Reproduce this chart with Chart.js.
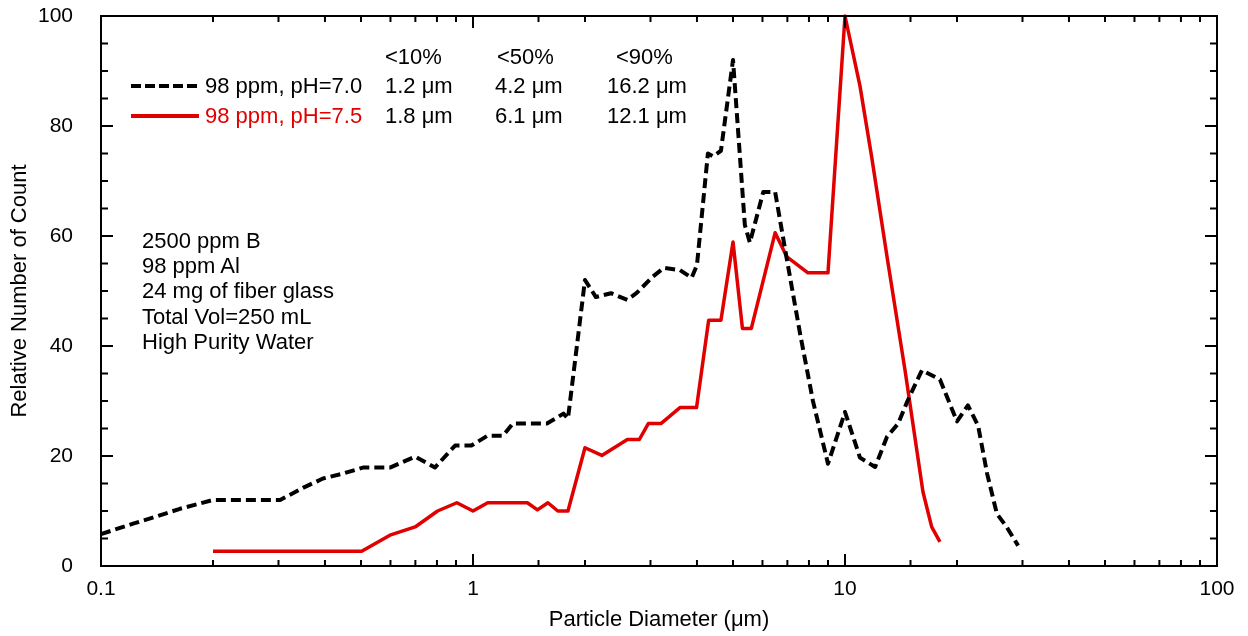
<!DOCTYPE html>
<html>
<head>
<meta charset="utf-8">
<script src="https://cdn.jsdelivr.net/npm/chart.js@4"></script>
<style>
  html, body { margin: 0; padding: 0; background: #fff; }
  #wrap { position: relative; width: 1248px; height: 636px; font-family: "Liberation Sans", Arial, sans-serif; }
  .t { position: absolute; font-size: 22px; line-height: 1; white-space: nowrap; transform: translateY(-50%); color: #000; }
  .red { color: #e00000; }
  .swatch { position: absolute; height: 4px; transform: translateY(-50%); }
</style>
</head>
<body>
<div id="wrap">
  <canvas id="chart" width="1248" height="636"></canvas>

  <div class="t" style="left:385px; top:57px;">&lt;10%</div>
  <div class="t" style="left:497px; top:57px;">&lt;50%</div>
  <div class="t" style="left:616px; top:57px;">&lt;90%</div>

  <div class="swatch" style="left:131px; top:86px; width:68px; background:repeating-linear-gradient(90deg,#000 0 10px,transparent 10px 14px);"></div>
  <div class="t" style="left:205px; top:86px;">98 ppm, pH=7.0</div>
  <div class="t" style="left:385px; top:86px;">1.2 μm</div>
  <div class="t" style="left:495px; top:86px;">4.2 μm</div>
  <div class="t" style="left:607px; top:86px;">16.2 μm</div>

  <div class="swatch" style="left:131px; top:116px; width:68px; background:#e00000;"></div>
  <div class="t red" style="left:205px; top:116px;">98 ppm, pH=7.5</div>
  <div class="t" style="left:385px; top:116px;">1.8 μm</div>
  <div class="t" style="left:495px; top:116px;">6.1 μm</div>
  <div class="t" style="left:607px; top:116px;">12.1 μm</div>

  <div class="t" style="left:142px; top:241px;">2500 ppm B</div>
  <div class="t" style="left:142px; top:266px;">98 ppm Al</div>
  <div class="t" style="left:142px; top:291px;">24 mg of fiber glass</div>
  <div class="t" style="left:142px; top:317px;">Total Vol=250 mL</div>
  <div class="t" style="left:142px; top:342px;">High Purity Water</div>
</div>

<script>
// pH 7.0 run (black dashed)
const diam70 = [0.1, 0.122, 0.135, 0.163, 0.2, 0.303, 0.349, 0.395, 0.447, 0.506, 0.598, 0.699, 0.79, 0.895, 0.99,
  1.095, 1.205, 1.28, 1.58, 1.75, 1.8, 2.0, 2.14, 2.35, 2.6, 2.75, 3.04, 3.26, 3.6, 3.87, 4.0, 4.28, 4.42, 4.64,
  5.0, 5.38, 5.55, 6.03, 6.49, 6.98, 7.57, 8.2, 9.0, 10.0, 10.97, 12.05, 12.97, 13.9, 14.7, 16.1, 18.0, 20.0,
  21.4, 22.8, 24.1, 25.6, 27.2, 29.2];
const count70 = [5.8, 7.7, 8.6, 10.4, 12, 12, 14.2, 15.9, 16.8, 17.9, 17.9, 19.9, 17.9, 21.9, 21.9,
  23.7, 23.7, 25.9, 25.9, 27.7, 26.8, 52, 48.9, 49.6, 48.4, 49.6, 52.6, 54.2, 53.8, 52.4, 54.7, 75, 74.5, 75.5,
  92, 62, 58.8, 68, 68, 55.7, 42.3, 30, 18.6, 28, 19.7, 18, 23.5, 25.9, 29.9, 35.6, 33.9, 26.3,
  29.2, 25.5, 16.8, 9.5, 7.1, 3.7];

// pH 7.5 run (red)
const diam75 = [0.2, 0.502, 0.598, 0.699, 0.803, 0.905, 1.0, 1.095, 1.4, 1.49, 1.59, 1.69, 1.8, 2.0, 2.22,
  2.6, 2.8, 2.96, 3.2, 3.6, 3.99, 4.3, 4.64, 5.0, 5.3, 5.6, 6.49, 6.98, 7.95, 9.0, 10.0, 10.97, 11.8, 13.0,
  14.5, 16.2, 17.1, 18.0];
const count75 = [2.7, 2.7, 5.6, 7.1, 10, 11.5, 10, 11.5, 11.5, 10.2, 11.5, 10, 10, 21.5, 20.1,
  23, 23, 25.9, 25.9, 28.8, 28.8, 44.7, 44.7, 58.9, 43.2, 43.2, 60.6, 56.2, 53.3, 53.3, 100, 87.3, 74.3, 55.8,
  35.6, 13.5, 7.1, 4.4];

const xLabels = [0.1, 1, 10, 100];
const yLabels = [0, 20, 40, 60, 80, 100];

const toPoints = (xs, ys) => xs.map((x, i) => ({ x, y: ys[i] }));
const isXLabel = v => xLabels.some(l => Math.abs(Math.log10(v) - Math.log10(l)) < 1e-6);
const isYLabel = v => yLabels.includes(v);

Chart.defaults.font.family = '"Liberation Sans", Arial, sans-serif';
Chart.defaults.color = '#000';

// box frame with ticks pointing inward on all four sides
const frameTicks = {
  id: 'frameTicks',
  afterDatasetsDraw(chart) {
    const { ctx, chartArea: a, scales: { x, y } } = chart;
    const seg = (x1, y1, x2, y2) => { ctx.beginPath(); ctx.moveTo(x1, y1); ctx.lineTo(x2, y2); ctx.stroke(); };
    ctx.save();
    ctx.strokeStyle = '#000';
    ctx.lineWidth = 2;
    ctx.strokeRect(a.left, a.top, a.right - a.left, a.bottom - a.top);
    x.ticks.forEach(t => {
      const px = x.getPixelForValue(t.value);
      if (px <= a.left + 1 || px >= a.right - 1) return;
      const len = isXLabel(t.value) ? 12 : 6;
      seg(px, a.bottom, px, a.bottom - len);
      seg(px, a.top, px, a.top + len);
    });
    y.ticks.forEach(t => {
      const py = y.getPixelForValue(t.value);
      if (py <= a.top + 1 || py >= a.bottom - 1) return;
      const len = isYLabel(t.value) ? 12 : 7;
      seg(a.left, py, a.left + len, py);
      seg(a.right, py, a.right - len, py);
    });
    ctx.restore();
  }
};

new Chart(document.getElementById('chart'), {
  type: 'line',
  data: {
    datasets: [
      {
        label: '98 ppm, pH=7.0',
        data: toPoints(diam70, count70),
        borderColor: '#000',
        borderWidth: 4,
        borderDash: [10, 5],
        borderJoinStyle: 'round',
        pointRadius: 0,
        tension: 0,
        clip: false
      },
      {
        label: '98 ppm, pH=7.5',
        data: toPoints(diam75, count75),
        borderColor: '#e00000',
        borderWidth: 3.5,
        borderJoinStyle: 'round',
        pointRadius: 0,
        tension: 0,
        clip: false
      }
    ]
  },
  options: {
    responsive: false,
    animation: false,
    layout: { padding: { top: 16, right: 31, left: 0, bottom: 0 } },
    plugins: { legend: { display: false }, tooltip: { enabled: false } },
    scales: {
      x: {
        type: 'logarithmic',
        min: 0.1,
        max: 100,
        grid: { display: false, drawTicks: false },
        border: { display: true, color: '#000', width: 2 },
        ticks: {
          autoSkip: false,
          maxRotation: 0,
          padding: 11,
          font: { size: 21 },
          callback: v => isXLabel(v) ? String(v) : ''
        },
        title: { display: true, text: 'Particle Diameter (μm)', font: { size: 22 }, padding: { top: 0, bottom: 3 } },
        afterFit: s => { s.height = 70; s.paddingLeft = 0; s.paddingRight = 0; }
      },
      y: {
        min: 0,
        max: 100,
        grid: { display: false, drawTicks: false },
        border: { display: true, color: '#000', width: 2 },
        ticks: {
          stepSize: 5,
          autoSkip: false,
          padding: 28,
          font: { size: 21 },
          callback: v => isYLabel(v) ? String(v) : ''
        },
        title: { display: true, text: 'Relative Number of Count', font: { size: 22 }, padding: { top: 7, bottom: 0 } },
        afterFit: s => { s.width = 101; s.paddingTop = 0; s.paddingBottom = 0; }
      }
    }
  },
  plugins: [frameTicks]
});
</script>
</body>
</html>
